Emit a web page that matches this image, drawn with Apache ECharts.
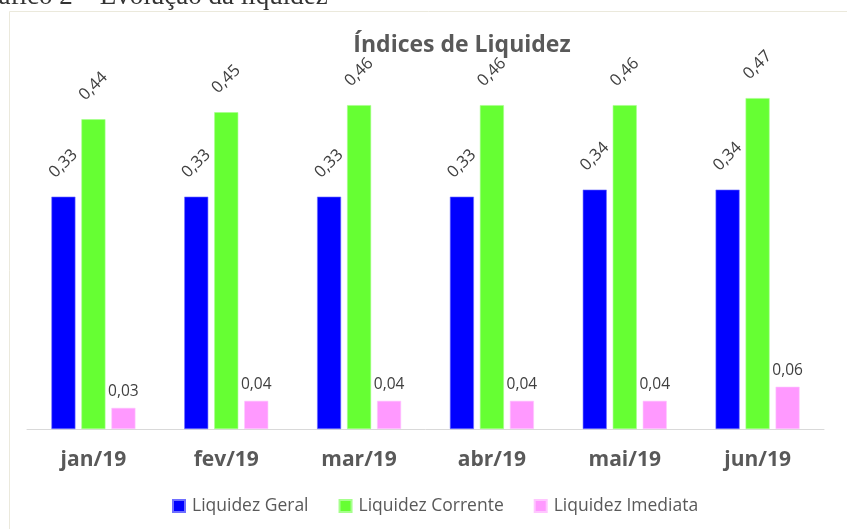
<!DOCTYPE html>
<html>
<head>
<meta charset="utf-8">
<script src="https://cdn.jsdelivr.net/npm/echarts@6/dist/echarts.min.js"></script>
<style>
  html, body { margin: 0; padding: 0; background: #fff; }
  #chart { width: 847px; height: 529px; }
</style>
</head>
<body>
<div id="chart"></div>
<script>
const months = ['jan/19', 'fev/19', 'mar/19', 'abr/19', 'mai/19', 'jun/19'];
const liquidezGeral = [0.33, 0.33, 0.33, 0.33, 0.34, 0.34];
const liquidezCorrente = [0.44, 0.45, 0.46, 0.46, 0.46, 0.47];
const liquidezImediata = [0.03, 0.04, 0.04, 0.04, 0.04, 0.06];

const chart = echarts.init(document.getElementById('chart'));

const fmt = p => p.value.toFixed(2).replace('.', ',');
const font = 'Open Sans';

const rotLabel = {
  show: true,
  position: 'top',
  rotate: 45,
  align: 'center',
  verticalAlign: 'middle',
  distance: 33,
  formatter: fmt,
  color: '#404040',
  fontFamily: font,
  fontSize: 16.5
};

const options = {
  animation: false,
  title: {
    text: 'Índices de Liquidez',
    left: 457,
    textAlign: 'center',
    top: 29,
    textStyle: {
      fontFamily: font,
      fontWeight: 'bold',
      fontSize: 23,
      color: '#595959'
    }
  },
  graphic: [
    {
      type: 'rect',
      shape: { x: 9.5, y: 11.5, width: 900, height: 600 },
      style: { fill: 'none', stroke: '#ebe9dc', lineWidth: 1 },
      silent: true
    },
    {
      type: 'text',
      left: -30,
      top: -17,
      style: {
        text: 'Gráfico 2 – Evolução da liquidez',
        font: '27px "Liberation Serif"',
        fill: '#333'
      }
    }
  ],
  legend: {
    left: 167,
    top: 492,
    itemWidth: 12,
    itemHeight: 12,
    itemGap: 30,
    icon: 'rect',
    textStyle: {
      fontFamily: font,
      fontSize: 17.5,
      color: '#595959',
      padding: [0, 0, 0, 2]
    },
    data: ['Liquidez Geral', 'Liquidez Corrente', 'Liquidez Imediata']
  },
  grid: {
    left: 27,
    right: 23,
    top: 77,
    bottom: 100
  },
  xAxis: {
    type: 'category',
    data: months,
    axisLine: { lineStyle: { color: '#d9d9d9', width: 1 } },
    axisTick: { length: 8, lineStyle: { color: '#d9d9d9' } },
    axisLabel: {
      margin: 21,
      fontFamily: font,
      fontWeight: 'bold',
      fontSize: 21,
      color: '#595959'
    }
  },
  yAxis: {
    type: 'value',
    min: 0,
    max: 0.5,
    show: false,
    splitLine: { show: false }
  },
  series: [
    {
      name: 'Liquidez Geral',
      type: 'bar',
      data: liquidezGeral,
      barWidth: 24,
      barGap: '25%',
      itemStyle: { color: '#0000ff', borderColor: '#6f6fff', borderWidth: 0.6 },
      label: rotLabel
    },
    {
      name: 'Liquidez Corrente',
      type: 'bar',
      data: liquidezCorrente,
      barWidth: 24,
      barGap: '25%',
      itemStyle: { color: '#66ff33', borderColor: '#a6ff8c', borderWidth: 0.6 },
      label: rotLabel
    },
    {
      name: 'Liquidez Imediata',
      type: 'bar',
      data: liquidezImediata,
      barWidth: 24,
      barGap: '25%',
      itemStyle: { color: '#ff99ff', borderColor: '#ffc6ff', borderWidth: 0.6 },
      label: {
        show: true,
        position: 'top',
        distance: 8,
        formatter: fmt,
        color: '#404040',
        fontFamily: font,
        fontSize: 15.5
      }
    }
  ]
};

chart.setOption(options);
</script>
</body>
</html>
